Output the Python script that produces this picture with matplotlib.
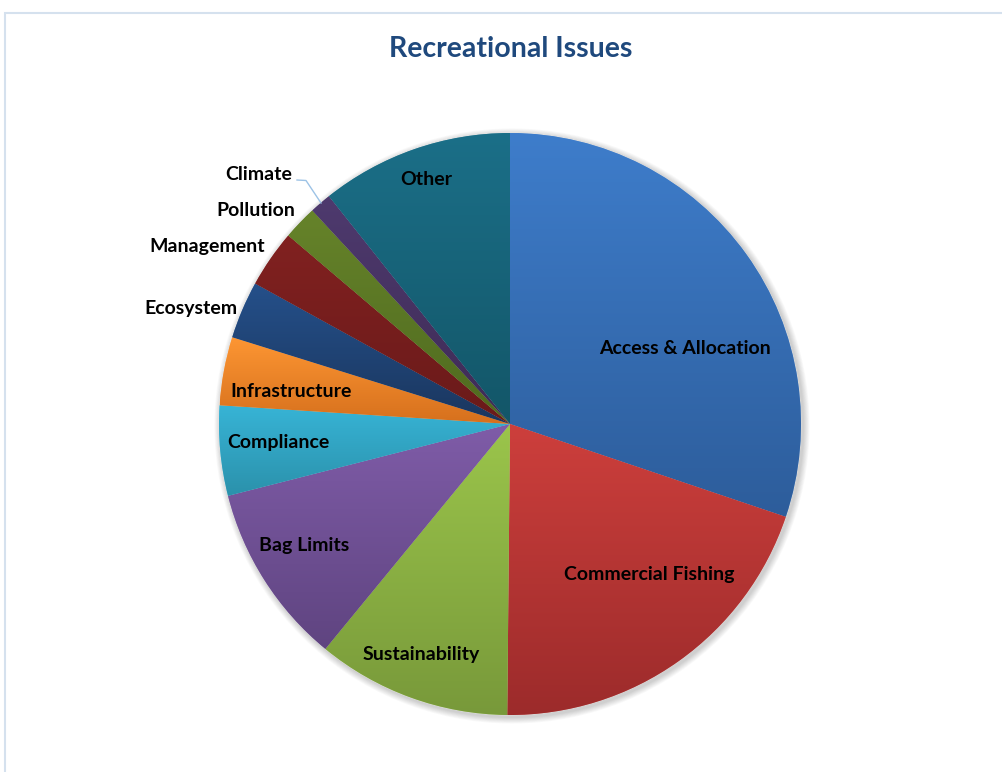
import numpy as np
import matplotlib
matplotlib.use("Agg")
import matplotlib.pyplot as plt
from matplotlib.colors import LinearSegmentedColormap
from matplotlib.patches import Rectangle

# share of responses per issue (%), clockwise from 12 o'clock
issues = ["Access & Allocation", "Commercial Fishing", "Sustainability", "Bag Limits",
          "Compliance", "Infrastructure", "Ecosystem", "Management", "Pollution",
          "Climate", "Other"]
shares = [30.2, 20.0, 10.8, 10.1, 5.0, 3.8, 3.2, 3.2, 1.9, 1.2, 10.7]

# light (top) and dark (bottom) shade of each slice
light = ["#3e7dcb", "#cd3f3c", "#9bc54b", "#7f5ca8", "#37b4d6", "#fd9633",
         "#25508a", "#812120", "#66832a", "#4e3a6e", "#1b6f88"]
dark = ["#2d5d9b", "#9c2b2b", "#78993a", "#5f4480", "#2b91ab", "#d6701d",
        "#1a365e", "#6a1a1a", "#4f6a1f", "#3e2b55", "#135668"]

W, H = 1002, 772
cx, cy, R = 510, H - 424, 291

# label centres in pixels (x from left, y from top)
label_pos = {
    "Access & Allocation": (685, 348.5),
    "Commercial Fishing": (649, 574.5),
    "Sustainability": (421, 654.5),
    "Bag Limits": (304, 545.5),
    "Compliance": (278, 442.5),
    "Infrastructure": (291, 391.5),
    "Ecosystem": (191, 308.5),
    "Management": (207, 246.5),
    "Pollution": (256, 210.5),
    "Climate": (259, 174.5),
    "Other": (426, 179.5),
}

plt.rcParams["font.family"] = ["Lato", "DejaVu Sans"]

fig = plt.figure(figsize=(W / 100, H / 100), dpi=100)
ax = fig.add_axes([0, 0, 1, 1])

# chart frame
ax.add_patch(Rectangle((5, -20), W + 20, H - 13 + 20, fill=False,
                       edgecolor="#d5e1ee", linewidth=1.5, zorder=0))

# soft shadow under the pie
for k in range(8):
    sh = plt.Circle((cx + 2, cy - 2), R + 1 + k * 0.8, color="#000000",
                    alpha=0.025, linewidth=0, zorder=1)
    ax.add_patch(sh)

wedges, _ = ax.pie(shares, startangle=90, counterclock=False, center=(cx, cy),
                   radius=R, colors=light,
                   wedgeprops=dict(linewidth=0.6, edgecolor=(1, 1, 1, 0.35)))

# vertical gradient fill, clipped to each slice
grad = np.linspace(0, 1, 256).reshape(-1, 1)
for w, c_top, c_bot in zip(wedges, light, dark):
    w.set_zorder(2)
    bb = w.get_path().get_extents()
    cmap = LinearSegmentedColormap.from_list("g", [c_bot, c_top])
    im = ax.imshow(grad, cmap=cmap, origin="lower", aspect="auto",
                   extent=(bb.x0, bb.x1, bb.y0, bb.y1), zorder=2.5,
                   interpolation="bilinear")
    im.set_clip_path(w)

# leader line for the smallest slice
ax.plot([297, 306, 321], [H - 180, H - 180.5, H - 203], color="#9dc3e6",
        linewidth=1.0, zorder=4)

for name in issues:
    x, y = label_pos[name]
    ax.text(x, H - y, name, ha="center", va="center", fontsize=14,
            fontweight="bold", color="black", zorder=5)

ax.text(511, H - 49, "Recreational Issues", ha="center", va="center",
        fontsize=20.5, fontweight="bold", color="#1f497d")

ax.set_xlim(0, W)
ax.set_ylim(0, H)
ax.set_aspect("auto")
ax.axis("off")

fig.savefig("out.png", dpi=100)
